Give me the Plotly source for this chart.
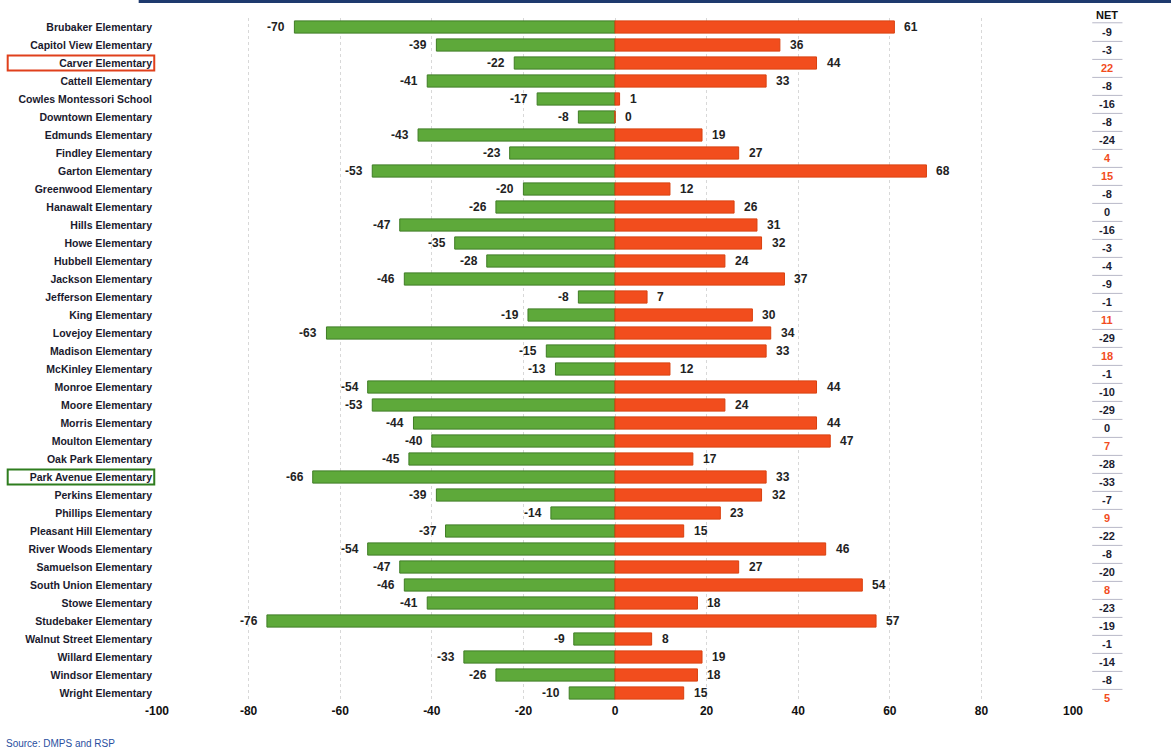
import plotly.graph_objects as go

schools = [
    "Brubaker Elementary", "Capitol View Elementary", "Carver Elementary", "Cattell Elementary",
    "Cowles Montessori School", "Downtown Elementary", "Edmunds Elementary", "Findley Elementary",
    "Garton Elementary", "Greenwood Elementary", "Hanawalt Elementary", "Hills Elementary",
    "Howe Elementary", "Hubbell Elementary", "Jackson Elementary", "Jefferson Elementary",
    "King Elementary", "Lovejoy Elementary", "Madison Elementary", "McKinley Elementary",
    "Monroe Elementary", "Moore Elementary", "Morris Elementary", "Moulton Elementary",
    "Oak Park Elementary", "Park Avenue Elementary", "Perkins Elementary", "Phillips Elementary",
    "Pleasant Hill Elementary", "River Woods Elementary", "Samuelson Elementary",
    "South Union Elementary", "Stowe Elementary", "Studebaker Elementary",
    "Walnut Street Elementary", "Willard Elementary", "Windsor Elementary", "Wright Elementary",
]
losses = [-70, -39, -22, -41, -17, -8, -43, -23, -53, -20, -26, -47, -35, -28, -46, -8, -19, -63,
          -15, -13, -54, -53, -44, -40, -45, -66, -39, -14, -37, -54, -47, -46, -41, -76, -9, -33,
          -26, -10]
gains = [61, 36, 44, 33, 1, 0, 19, 27, 68, 12, 26, 31, 32, 24, 37, 7, 30, 34, 33, 12, 44, 24, 44,
         47, 17, 33, 32, 23, 15, 46, 27, 54, 18, 57, 8, 19, 18, 15]
net = [g + l for g, l in zip(gains, losses)]
highlight = {"Carver Elementary": "#e0401c", "Park Avenue Elementary": "#2e7d1e"}
x_ticks = [-100, -80, -60, -40, -20, 0, 20, 40, 60, 80, 100]

FONT = "Liberation Sans Narrow, Liberation Sans, Arial, sans-serif"
GREEN = "#5ea93a"
RED = "#f24d1d"
n = len(schools)

fig = go.Figure()
fig.add_trace(go.Bar(
    y=list(range(n)), x=losses, orientation="h", width=0.68,
    marker=dict(color=GREEN, line=dict(color="#3f7d25", width=1)),
    hovertext=schools, hoverinfo="x+text",
))
fig.add_trace(go.Bar(
    y=list(range(n)), x=gains, orientation="h", width=0.68,
    marker=dict(color=RED, line=dict(color="#d9400f", width=1)),
    hovertext=schools, hoverinfo="x+text",
))

annotations = []
# value labels just past each bar end
for i, (lo, hi) in enumerate(zip(losses, gains)):
    annotations.append(dict(
        x=lo, y=i, xref="x", yref="y", text=f"<b>{lo}</b>", showarrow=False,
        xanchor="right", xshift=-7, font=dict(family=FONT, size=12, color="#222222"),
    ))
    annotations.append(dict(
        x=hi, y=i, xref="x", yref="y", text=f"<b>{hi}</b>", showarrow=False,
        xanchor="left", xshift=8, font=dict(family=FONT, size=12, color="#222222"),
    ))

# NET column: header, one value per school, each with a short rule underneath
NET_X = 1.0375
annotations.append(dict(
    x=NET_X, xref="paper", y=1.005, yref="paper", text="<b>NET</b>", showarrow=False,
    font=dict(family=FONT, size=11, color="#111111"), xanchor="center", yanchor="middle",
))
shapes = [dict(
    type="line", xref="paper", yref="paper", x0=1.021, x1=1.054, y0=0.993, y1=0.993,
    line=dict(color="#b8b8c8", width=1),
)]
for i, v in enumerate(net):
    color = RED if v > 0 else "#1c1c30"
    annotations.append(dict(
        x=NET_X, xref="paper", y=i + 0.3, yref="y", text=f"<b>{v}</b>", showarrow=False,
        font=dict(family=FONT, size=11, color=color), xanchor="center",
    ))
    if i < n - 1:
        shapes.append(dict(
            type="line", xref="paper", yref="y", x0=1.021, x1=1.054, y0=i + 0.8, y1=i + 0.8,
            line=dict(color="#b8b8c8", width=1),
        ))

# boxes around the two highlighted school names
for name, col in highlight.items():
    i = schools.index(name)
    shapes.append(dict(
        type="rect", xref="paper", yref="y", x0=-0.163, x1=-0.003, y0=i - 0.42, y1=i + 0.42,
        line=dict(color=col, width=2),
    ))

# dark band along the top edge
shapes.append(dict(
    type="rect", xref="paper", yref="paper", x0=-0.02, x1=1.11, y0=1.022, y1=1.028,
    line=dict(width=0), fillcolor="#1e3a6e",
))

annotations.append(dict(
    x=-0.167, xref="paper", y=-0.06, yref="paper", text="Source: DMPS and RSP",
    showarrow=False, xanchor="left", yanchor="middle",
    font=dict(family=FONT, size=10, color="#2a4fa0"),
))

fig.update_layout(
    width=1171, height=750, barmode="overlay", showlegend=False,
    paper_bgcolor="white", plot_bgcolor="white",
    margin=dict(l=157, r=98, t=18, b=48),
    font=dict(family=FONT, size=11, color="#111111"),
    annotations=annotations, shapes=shapes,
)
fig.update_xaxes(
    range=[-100, 100], tickvals=x_ticks, ticktext=[f"<b>{t}</b>" for t in x_ticks],
    showgrid=True, gridcolor="#d8d8d8", griddash="dot", gridwidth=1,
    zeroline=False, showline=False, tickfont=dict(family=FONT, size=12, color="#111111"),
)
fig.update_yaxes(
    range=[n - 0.5, -0.5], tickvals=list(range(n)),
    ticktext=[f"<b>{s}</b>" for s in schools],
    showgrid=False, zeroline=False, showline=False, ticks="",
    tickfont=dict(family=FONT, size=10.5, color="#1a1a2e"), ticklabelstandoff=4,
)

fig.write_html("out.html")
